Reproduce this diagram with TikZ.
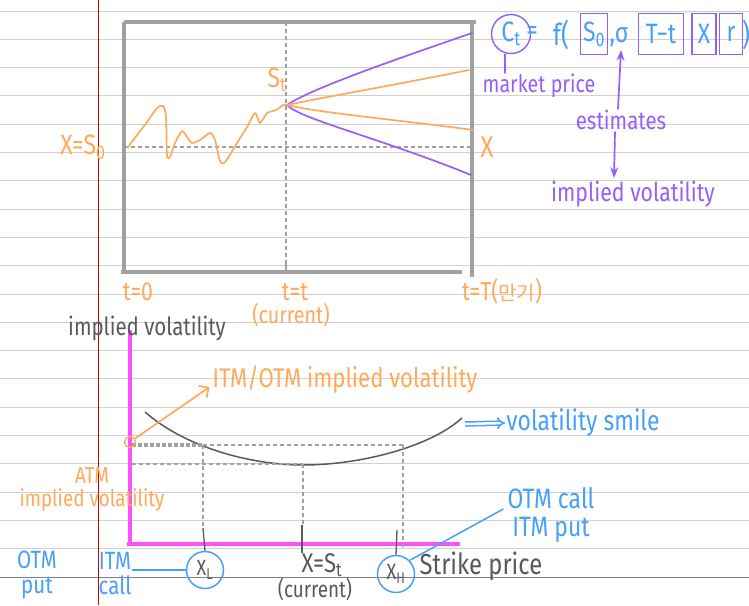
\documentclass[tikz,border=0pt]{standalone}
\usepackage{fontspec}
\setmainfont[FakeStretch=0.82]{Fira Sans}
\newfontfamily\kofont{Noto Sans CJK KR}
\usetikzlibrary{arrows.meta,positioning,calc}
\definecolor{penorange}{RGB}{255,170,90}
\definecolor{penpurple}{RGB}{150,95,250}
\definecolor{penblue}{RGB}{70,160,250}
\definecolor{penmagenta}{RGB}{255,80,250}
\definecolor{pengray}{RGB}{85,90,95}
\definecolor{framegray}{RGB}{160,160,160}
\definecolor{ruleline}{RGB}{208,208,208}
\newcommand{\hsz}[1]{\fontsize{#1}{#1}\selectfont}
\newcommand{\sub}[1]{\textsubscript{#1}}

\begin{document}
\begin{tikzpicture}[x=1pt, y=-1pt, >=Stealth,
 otxt/.style={text=penorange, inner sep=1pt},
 ptxt/.style={text=penpurple, inner sep=1pt},
 btxt/.style={text=penblue, inner sep=1pt},
 gtxt/.style={text=pengray, inner sep=1pt},
 pbox/.style={draw=penpurple, line width=1.4pt, text=penblue, minimum height=41pt, inner sep=1pt},
 frame/.style={framegray, line width=3.6pt},
 gdash/.style={framegray, line width=2.2pt, dash pattern=on 4pt off 3pt},
 axis/.style={penmagenta, line width=3.6pt},
 opath/.style={penorange, line width=1.7pt, line cap=round, line join=round},
 ppath/.style={penpurple, line width=1.7pt, line cap=round},
 bline/.style={penblue, line width=1.5pt},
 tick/.style={pengray, line width=1.3pt},
 strike/.style={draw=penblue, line width=1.5pt, circle, minimum size=37pt, inner sep=0pt, text=pengray, font=\hsz{22}}]
\useasboundingbox (0,0) rectangle (749,605);
% papier ligne
\fill[white] (0,0) rectangle (749,605);
\foreach \k in {0,...,19}
  \draw[ruleline, line width=1pt] (0,{11+28.3*\k}) -- (749,{11+28.3*\k});
\draw[gray, line width=1pt] (0,577) -- (749,577);
\draw[red!80!black, line width=1pt] (98,0) -- (98,605);

% cadre du haut
\draw[frame] (124,22) -- (476,22);
\draw[frame] (124,22) -- (124,272);
\draw[frame] (472,22) -- (472,277);
\draw[frame] (121,272) -- (462,272);
\draw[gdash] (286,22) -- (286,272);
\draw[gdash] (124,147) -- (472,147);
\draw[framegray, line width=2.5pt] (286,262) -- (286,274);

% trajectoire du sous-jacent
\coordinate (s0) at (128,147);
\coordinate (st) at (287,105);
\draw[opath] plot[smooth, tension=0.45] coordinates {(128,147) (147,122) (157,108) (163,106) (166,117) (167,155) (170,157) (175,143) (182,131) (187,137) (192,143) (200,140) (210,133) (215,140) (220,161) (225,162) (237,143) (247,127) (255,113) (260,123) (267,113) (273,111) (278,109) (283,105) (287,105)};
% eventail
\coordinate (pu) at (472,33);
\coordinate (pd) at (471,175);
\coordinate (ou) at (469,70);
\coordinate (od) at (473,130);
\draw[ppath] (st) .. controls (312,88) and (400,58) .. (pu);
\draw[ppath] (st) .. controls (300,119) and (380,138) .. (pd);
\draw[opath] (st) .. controls (330,96) and (400,84) .. (ou);
\draw[opath] (st) .. controls (320,113) and (400,120) .. (od);

% etiquettes du cadre
\node[otxt, font=\hsz{28}] (lx0) at (83,147) {X=S\sub{0}};
\node[otxt, font=\hsz{28}] (lst) at (277,80) {S\sub{t}};
\node[otxt, font=\hsz{30}] (lxk) at (487,147) {X};
\node[otxt, font=\hsz{26}] (lt0) at (138,292) {t=0};
\node[otxt, font=\hsz{26}] (ltt) at (295,292) {t=t};
\node[otxt, font=\hsz{24}] (lcur) at (291,315) {(current)};
\node[otxt, font=\hsz{26}] (ltT) at (502,291) {t=T({\kofont\hsz{20}만기})};

% formule de prix
\node[draw=penpurple, line width=1.4pt, circle, minimum size=39pt, inner sep=0pt, text=penblue, font=\hsz{28}] (ct) at (511,34) {C\sub{t}};
\node[btxt, font=\hsz{28}] (eq) at (532,33) {=};
\node[btxt, font=\hsz{30}] (fopen) at (561,35) {f(};
\node[pbox, font=\hsz{28}, minimum width=27pt] (sbox) at (594,34) {S\sub{0}};
\node[btxt, font=\hsz{28}] (sig) at (619,37) {,σ};
\node[pbox, font=\hsz{28}, minimum width=45pt] (tbox) at (661,34) {T−t};
\node[pbox, font=\hsz{28}, minimum width=24pt] (xbox) at (704,34) {X};
\node[pbox, font=\hsz{28}, minimum width=23pt] (rbox) at (731,34) {r};
\node[btxt, font=\hsz{30}] (fclose) at (746,35) {)};
\node[ptxt, font=\hsz{24}] (mkt) at (539,86) {market price};
\node[ptxt, font=\hsz{25}] (est) at (621,120) {estimates};
\node[ptxt, font=\hsz{26}] (ivol) at (633,194) {implied volatility};
\draw[ppath] ($(ct.south)+(-6,0)$) -- ($(mkt.north)+(-34,0)$);
\draw[ppath, ->] ($(est.north)+(-3,0)$) -- ($(sig.south)+(2,2)$);
\draw[ppath, ->] ($(est.south)+(-6,1)$) -- ($(ivol.north)+(-19,-2)$);

% graphe du bas
\coordinate (org) at (130,544);
\draw[axis] (130,330) -- (130,546);
\draw[axis] (127,544) -- (460,544);
\node[gtxt, font=\hsz{25}] (yl) at (147,328) {implied volatility};
% sourire
\coordinate (sl) at (145,412);
\coordinate (sm) at (303,465);
\coordinate (sr) at (462,418);
\draw[pengray, line width=1.5pt] (sl) .. controls (185,447) and (250,465) .. (sm) .. controls (360,465) and (430,447) .. (sr);
% niveaux
\draw[framegray, line width=3.4pt, dash pattern=on 4pt off 2pt] (132,445) -- (203,445);
\draw[gdash] (203,445) -- (403,445);
\draw[gdash] (132,464) -- (303,464);
\draw[gdash] (203,445) -- (203,530);
\draw[gdash] (303,464) -- (303,525);
\draw[gdash] (403,445) -- (403,547);
% prix d'exercice
\node[strike] (xl) at (205,570) {X\sub{L}};
\node[strike] (xh) at (396,574) {X\sub{H}};
\node[gtxt, font=\hsz{27}] (xatm) at (322,565) {X=S\sub{t}};
\node[gtxt, font=\hsz{23}] (xcur) at (315,589) {(current)};
\node[gtxt, font=\hsz{29}] (strk) at (481,566) {Strike price};
\draw[tick] (203,528) -- (xl.north);
\draw[tick] (302,525) -- (302,553);
\draw[tick] (397,530) -- (xh.north);
% ATM
\node[draw=penorange, line width=1.4pt, circle, minimum size=11pt, inner sep=0pt] (atm) at (130,442) {};
\node[otxt, font=\hsz{23}, align=center] (atmt) at (92,490) {ATM\\implied volatility};
\node[otxt, font=\hsz{27}] (iotm) at (345,379) {ITM/OTM implied volatility};
\draw[opath, -{Straight Barb[length=7pt]}] (atm) -- ($(iotm.west)+(-2,8)$);
% volatility smile
\node[btxt, font=\hsz{28}] (smile) at (583,423) {volatility smile};
\draw[bline, double, double distance=2.5pt, -{Implies}] ($(sr)+(3,6)$) -- (smile.west);
% call / put
\node[btxt, font=\hsz{25}, align=center] (otmput) at (37,575) {OTM\\put};
\node[btxt, font=\hsz{25}, align=center] (itmcall) at (115,574) {ITM\\call};
\draw[bline] (itmcall.east |- xl.west) -- (xl.west);
\node[btxt, font=\hsz{28}, align=center] (otmcall) at (551,515) {OTM call\\ITM put};
\draw[bline] (xh.north east) -- ($(otmcall.west)+(-3,-6)$);
\end{tikzpicture}
\end{document}
